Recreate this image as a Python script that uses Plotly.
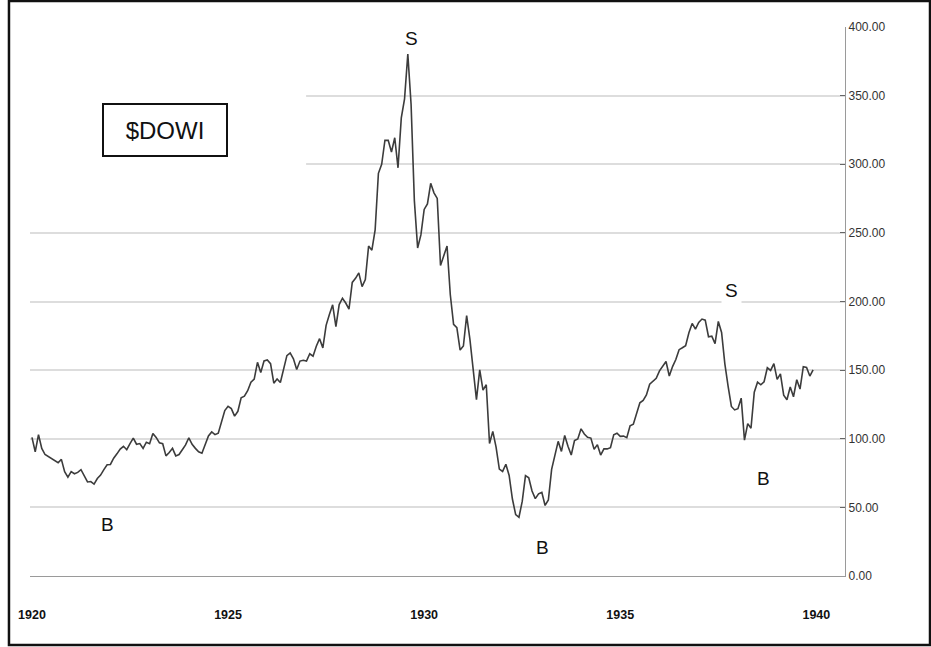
import plotly.graph_objects as go

# Monthly closes of the Dow Jones Industrial Average
start_year = 1920
dow_1920 = [101, 90.5, 103, 93, 88.5, 87, 85, 83.5, 82.5, 85, 76, 72]
dow_1921 = [76, 74.5, 75.5, 77.5, 73, 68.5, 68.8, 67, 71, 73.5, 77.5, 81]
dow_1922 = [81.3, 85.8, 89, 92.5, 94.5, 92, 96.5, 100.5, 96, 96.5, 93, 97.5]
dow_1923 = [96.4, 103.9, 101, 97, 96.4, 87.5, 90, 93, 87.5, 88.5, 92, 95.5]
dow_1924 = [100.7, 96, 93, 90.5, 89.5, 96, 102, 105, 103, 104, 111.4, 120.5]
dow_1925 = [123.6, 122, 116.5, 120, 129.9, 131, 135, 141.2, 143.5, 155.7, 148.2, 156.7]
dow_1926 = [157.4, 154.7, 140.5, 143.5, 141, 152, 160.6, 162.5, 158.2, 150.4, 156.6, 157.2]
dow_1927 = [156.6, 161.9, 160.1, 167.4, 172.9, 166.2, 182.6, 190.6, 197.6, 181.7, 197.8, 202.4]
dow_1928 = [198.9, 194.4, 213.9, 216.9, 220.9, 210.8, 216, 240.4, 237.4, 252.2, 293.4, 300]
dow_1929 = [317.5, 317.4, 308.9, 319.3, 297.4, 333.8, 347.7, 380.3, 343.5, 273.5, 238.95, 248.5]
dow_1930 = [267.1, 271.1, 286.1, 279.2, 275.1, 226.3, 234, 240.4, 204.9, 183.4, 181, 164.6]
dow_1931 = [167.6, 189.7, 172.4, 151.2, 128.5, 150.2, 135.4, 139.4, 96.6, 105.4, 93.9, 77.9]
dow_1932 = [76.2, 81.4, 73.3, 56.1, 44.7, 42.8, 54.3, 73.2, 71.6, 61.9, 56.4, 59.9]
dow_1933 = [60.9, 51.4, 55.4, 77.7, 88.1, 98.1, 90.8, 102.4, 94.5, 88.2, 98.7, 99.9]
dow_1934 = [107.2, 103.5, 101.1, 100.5, 92.4, 95.7, 88.1, 92.6, 92.6, 93.5, 102.9, 104]
dow_1935 = [101.7, 101.9, 100.8, 109.5, 110.6, 118.2, 126.2, 127.9, 131.9, 139.7, 142.3, 144.1]
dow_1936 = [149.5, 152.5, 156.3, 145.7, 152.6, 157.7, 164.9, 166.3, 167.8, 177.2, 184, 179.9]
dow_1937 = [184.7, 187.2, 186.4, 174.3, 174.7, 169.3, 185.5, 177.4, 154.6, 138.2, 123.5, 121]
dow_1938 = [121.9, 129.6, 99, 111, 107.7, 133.9, 141.2, 139.3, 141.5, 151.7, 149.8, 154.8]
dow_1939 = [143.3, 147.3, 131.8, 128.4, 137.7, 130.6, 143, 136.2, 152.5, 151.9, 145.7, 150.2]

yearly = [dow_1920, dow_1921, dow_1922, dow_1923, dow_1924, dow_1925, dow_1926,
          dow_1927, dow_1928, dow_1929, dow_1930, dow_1931, dow_1932, dow_1933,
          dow_1934, dow_1935, dow_1936, dow_1937, dow_1938, dow_1939]

x_tick_years = [1920, 1925, 1930, 1935, 1940]
y_ticks = [0, 50, 100, 150, 200, 250, 300, 350, 400]

t_vals, v_vals = [], []
for k, vals in enumerate(yearly):
    for m, v in enumerate(vals):
        t_vals.append(start_year + k + m / 12.0)
        v_vals.append(v)


def extreme(y0, y1, fn):
    pts = [(t, v) for t, v in zip(t_vals, v_vals) if y0 <= t < y1]
    return fn(pts, key=lambda p: p[1])


s1 = extreme(1928, 1931, max)
s2 = extreme(1936, 1938, max)
b1 = extreme(1920, 1923, min)
b2 = extreme(1931, 1934, min)
b3 = extreme(1938, 1939, min)

fig = go.Figure()
fig.add_trace(go.Scatter(x=t_vals, y=v_vals, mode="lines",
                         line=dict(color="#3c3c3c", width=1.6),
                         hoverinfo="skip", showlegend=False))

lab_font = dict(family="Liberation Sans, Arial, sans-serif", size=19, color="#111")
anns = [
    dict(x=s1[0], y=s1[1], text="S", xshift=4, yshift=16, borderpad=2),
    dict(x=s2[0], y=s2[1], text="S", xshift=30, yshift=29, borderpad=3),
    dict(x=b1[0], y=b1[1], text="B", xshift=13, yshift=-40, borderpad=5),
    dict(x=b2[0], y=b2[1], text="B", xshift=24, yshift=-30, borderpad=3),
    dict(x=b3[0], y=b3[1], text="B", xshift=19, yshift=-38, borderpad=3),
]
for a in anns:
    fig.add_annotation(xref="x", yref="y", showarrow=False, font=lab_font,
                       bgcolor="white", **a)

fig.add_annotation(xref="paper", yref="paper", x=0.1656, y=0.812, text="$DOWI",
                   xanchor="center", yanchor="middle",
                   showarrow=False, font=dict(family="Liberation Sans, Arial, sans-serif",
                                              size=24, color="#111"),
                   width=120, height=48, borderpad=1, borderwidth=2,
                   bordercolor="#111", bgcolor="white")

# white patches where the reference shows no gridlines
fig.add_shape(type="rect", xref="x", yref="y", x0=1919.9, x1=1926.99, y0=280, y1=365,
              fillcolor="white", line=dict(width=0), layer="above")
fig.add_shape(type="rect", xref="paper", yref="y", x0=0, x1=0.99, y0=394, y1=401,
              fillcolor="white", line=dict(width=0), layer="above")

# outer frame
fig.add_shape(type="rect", xref="paper", yref="paper",
              x0=-0.0258, x1=1.1043, y0=-0.1257, y1=1.0474,
              line=dict(color="#111", width=2.5), fillcolor="rgba(0,0,0,0)")

tick_family = "Liberation Sans, Arial, sans-serif"
fig.update_layout(
    width=931, height=647,
    margin=dict(l=30, r=86, t=27, b=71),
    paper_bgcolor="white", plot_bgcolor="white",
    xaxis=dict(range=[1919.95, 1940.73], tickmode="array", tickvals=x_tick_years,
               ticktext=[str(y) for y in x_tick_years], showgrid=False,
               zeroline=False, showline=True, linecolor="#9a9a9a", linewidth=1.2,
               ticks="", ticklabelstandoff=27,
               tickfont=dict(family=tick_family, size=12.5, color="#111", weight="bold")),
    yaxis=dict(range=[0, 400], side="right", tickmode="array", tickvals=y_ticks,
               tickformat=".2f", showgrid=True, gridcolor="#dddddd", gridwidth=1.5,
               zeroline=False, showline=True, linecolor="#9a9a9a", linewidth=1.2,
               ticks="inside", ticklen=5, tickcolor="#666",
               tickfont=dict(family=tick_family, size=12, color="#333")),
)

fig.write_html("out.html", config={"displayModeBar": False},
               post_script="document.body.style.margin='0';document.body.style.overflow='hidden';")
